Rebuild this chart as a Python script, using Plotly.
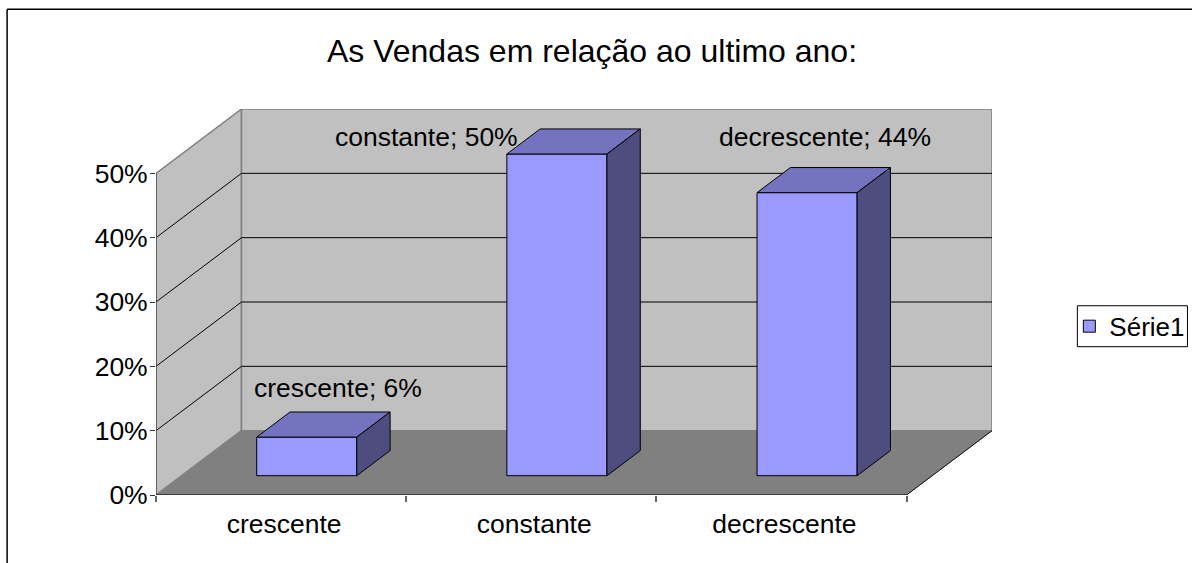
import plotly.graph_objects as go

categories = ["crescente", "constante", "decrescente"]
values = [6, 50, 44]
y_ticks = [0, 10, 20, 30, 40, 50]
y_tick_labels = ["0%", "10%", "20%", "30%", "40%", "50%"]
series_name = "Série1"
title_text = "As Vendas em relação ao ultimo ano:"
label_x = [0.229, 0.581, 2.176]
label_y = [16.7, 55.7, 55.7]

FONT = "Liberation Sans"
FS = 26.5
DX, DY = 0.3417, 10.0     # oblique shift of full depth, in axis units
D0, D1 = 0.30, 0.69       # bar depth span
BAR_W = 0.40
XL, XR = -0.5, 2.5


def pr(x, y, d=0.0):
    return x + d * DX, y + d * DY


def poly(points, fill):
    xs = [p[0] for p in points] + [points[0][0]]
    ys = [p[1] for p in points] + [points[0][1]]
    return go.Scatter(x=xs, y=ys, mode="lines", fill="toself", fillcolor=fill,
                      line=dict(color="#000000", width=1), showlegend=False, hoverinfo="skip")


def shape_poly(points, fill, line="#808080", width=1.5):
    path = "M " + " L ".join(f"{x},{y}" for x, y in points) + " Z"
    return dict(type="path", path=path, xref="x", yref="y", fillcolor=fill,
                line=dict(color=line, width=width), layer="below")


def seg(a, b, color, width=1):
    return dict(type="line", xref="x", yref="y", x0=a[0], y0=a[1], x1=b[0], y1=b[1],
                line=dict(color=color, width=width), layer="below")


top = max(y_ticks)
shapes = [
    shape_poly([pr(XL, 0), pr(XL, top), pr(XL, top, 1), pr(XL, 0, 1)], "#C0C0C0"),
    shape_poly([pr(XL, 0, 1), pr(XL, top, 1), pr(XR, top, 1), pr(XR, 0, 1)], "#C0C0C0"),
    shape_poly([pr(XL, 0), pr(XR, 0), pr(XR, 0, 1), pr(XL, 0, 1)], "#808080", width=1),
]
for t in y_ticks[1:-1]:
    shapes.append(seg(pr(XL, t), pr(XL, t, 1), "#000000"))
    shapes.append(seg(pr(XL, t, 1), pr(XR, t, 1), "#000000"))
shapes.append(seg(pr(XR, 0), pr(XR, 0, 1), "#111111", 1))
shapes.append(seg(pr(XL, 0), pr(XL, top), "#333333", 1))
shapes.append(seg(pr(XL, 0), pr(XR, 0), "#222222", 1.5))
# chart frame
shapes.append(dict(type="line", xref="paper", yref="paper", x0=-0.1781, x1=1.25, y0=1.2587, y1=1.2587,
                   line=dict(color="#000000", width=1.5)))
shapes.append(dict(type="line", xref="paper", yref="paper", x0=-0.1781, x1=-0.1781, y0=1.2587, y1=-0.18,
                   line=dict(color="#000000", width=1.5)))
# legend frame
shapes.append(dict(type="rect", xref="paper", yref="paper", x0=1.1021, x1=1.2338, y0=0.4903, y1=0.3842,
                   fillcolor="#FFFFFF", line=dict(color="#000000", width=1)))

fig = go.Figure()
bar_x = [i + D0 * DX for i in range(len(values))]
bar_base = [D0 * DY] * len(values)
fig.add_trace(go.Bar(x=bar_x, y=values, base=bar_base, width=BAR_W, name=series_name,
                     marker=dict(color="#9999FF", line=dict(color="#000000", width=1)),
                     showlegend=True, hoverinfo="skip"))
for i, v in enumerate(values):
    l, r = i - BAR_W / 2, i + BAR_W / 2
    fig.add_trace(poly([pr(l, v, D0), pr(r, v, D0), pr(r, v, D1), pr(l, v, D1)], "#7373BF"))
    fig.add_trace(poly([pr(r, 0, D0), pr(r, v, D0), pr(r, v, D1), pr(r, 0, D1)], "#4D4D80"))

annotations = [
    dict(x=label_x[i], y=label_y[i], xref="x", yref="y", text=f"{categories[i]}; {values[i]}%",
         showarrow=False, xanchor="center", yanchor="middle",
         font=dict(family=FONT, size=FS, color="#000000"))
    for i in range(len(values))
]

fig.update_layout(
    width=1192, height=563, autosize=False,
    margin=dict(l=156.3, r=200.3, t=109, b=67.5, pad=0, autoexpand=False),
    paper_bgcolor="#FFFFFF", plot_bgcolor="rgba(0,0,0,0)",
    font=dict(family=FONT, size=FS, color="#000000"),
    title=dict(text=title_text, x=592 / 1192, xanchor="center", y=1 - 50.5 / 563, yanchor="middle",
               font=dict(family=FONT, size=32, color="#000000")),
    xaxis=dict(range=[XL, XL + 3 + DX], tickmode="array",
               tickvals=[i + 0.012 for i in range(len(categories))],
               ticktext=categories, ticks="outside", ticklen=5, tickcolor="rgba(0,0,0,0)",
               minor=dict(tickmode="array", tickvals=[-0.5, 0.5, 1.5, 2.5], ticks="outside", ticklen=6,
                          tickwidth=1.5, tickcolor="#666666", showgrid=False),
               showgrid=False, zeroline=False, showline=False, fixedrange=True,
               tickfont=dict(family=FONT, size=FS)),
    yaxis=dict(range=[0, top + DY], tickmode="array", tickvals=y_ticks, ticktext=y_tick_labels,
               ticks="outside", ticklen=5, tickcolor="#333333", showgrid=False, zeroline=False,
               showline=False, fixedrange=True, ticklabelstandoff=-3,
               tickfont=dict(family=FONT, size=FS)),
    legend=dict(x=1.0925, y=0.498, xanchor="left", yanchor="top", bgcolor="rgba(0,0,0,0)",
                borderwidth=0, font=dict(family=FONT, size=26)),
    shapes=shapes, annotations=annotations, barmode="overlay", showlegend=True,
)

fig.write_html("out.html", config={"displayModeBar": False},
               post_script="document.body.style.margin='0';document.documentElement.style.overflow='hidden';")
